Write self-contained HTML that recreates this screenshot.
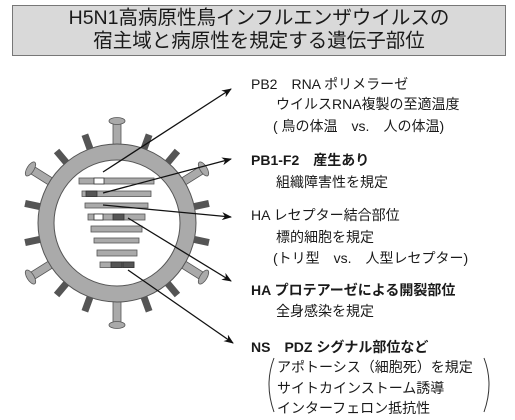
<!DOCTYPE html>
<html><head><meta charset="utf-8"><style>
html,body{margin:0;padding:0;background:#fff;}
body{width:515px;height:420px;position:relative;overflow:hidden;font-family:"Liberation Sans","Noto Sans CJK JP",sans-serif;color:#1a1a1a;}
.t{position:absolute;font-size:14px;white-space:nowrap;line-height:18px;}
.b{font-weight:bold;}
</style></head><body>
<div style="position:absolute;left:12px;top:5px;width:492px;height:48px;background:#d9d9d9;border:1px solid #777;text-align:center;font-size:19.5px;line-height:23px;padding-top:1px;">H5N1高病原性鳥インフルエンザウイルスの<br>宿主域と病原性を規定する遺伝子部位</div>
<svg width="515" height="420" style="position:absolute;left:0;top:0">
<defs>
<g id="lp"><rect x="-4" y="-101" width="8" height="26" fill="#aaa" stroke="#555" stroke-width="0.8"/><ellipse cx="0" cy="-102" rx="8" ry="3.5" fill="#aaa" stroke="#555" stroke-width="0.8"/></g>
<rect id="dk" x="-3.5" y="-94" width="7" height="18" fill="#555"/>
<marker id="ar" markerWidth="10" markerHeight="8" refX="9" refY="4" orient="auto" markerUnits="userSpaceOnUse"><path d="M0,0 L10,4 L0,8 L3,4z" fill="#111"/></marker>
</defs>
<g transform="translate(117,223)">
<use href="#lp" transform="rotate(0)"/><use href="#lp" transform="rotate(180)"/>
<use href="#lp" transform="rotate(-58)"/><use href="#lp" transform="rotate(58)"/>
<use href="#lp" transform="rotate(-122)"/><use href="#lp" transform="rotate(122)"/>
<use href="#dk" transform="rotate(-20)"/><use href="#dk" transform="rotate(20)"/>
<use href="#dk" transform="rotate(-40)"/><use href="#dk" transform="rotate(40)"/>
<use href="#dk" transform="rotate(-78)"/><use href="#dk" transform="rotate(78)"/>
<use href="#dk" transform="rotate(-102)"/><use href="#dk" transform="rotate(102)"/>
<use href="#dk" transform="rotate(-140)"/><use href="#dk" transform="rotate(140)"/>
<use href="#dk" transform="rotate(-160)"/><use href="#dk" transform="rotate(160)"/>
<circle r="79" fill="#aaa" stroke="#555" stroke-width="1"/>
<circle r="63" fill="#fff" stroke="#555" stroke-width="1"/>
</g>
<g fill="#aaa" stroke="#555" stroke-width="0.8">
<rect x="79" y="178" width="75" height="6"/>
<rect x="82" y="191" width="69" height="5.5"/>
<rect x="85" y="203" width="63" height="5"/>
<rect x="88" y="214" width="57" height="6"/>
<rect x="91" y="226" width="51" height="6"/>
<rect x="94" y="238" width="45" height="5"/>
<rect x="97" y="250" width="40" height="6"/>
<rect x="100" y="262" width="34" height="5.5"/>
</g>
<g stroke="#333" stroke-width="0.8">
<rect x="94" y="178" width="10" height="6" fill="#fff"/>
<rect x="86" y="191" width="11" height="5.5" fill="#555"/>
<rect x="94" y="214" width="9" height="6" fill="#fff"/>
<rect x="113" y="214" width="11" height="6" fill="#555"/>
<rect x="111" y="262" width="11" height="5.5" fill="#555"/>
<rect x="123" y="262" width="11" height="5.5" fill="#555"/>
</g>
<g stroke="#111" stroke-width="1.3" marker-end="url(#ar)">
<line x1="103" y1="172" x2="231" y2="89"/>
<line x1="103" y1="193" x2="231" y2="159"/>
<line x1="103" y1="205" x2="231" y2="217"/>
<line x1="128" y1="218" x2="231" y2="281"/>
<line x1="128" y1="270" x2="233" y2="343"/>
</g>
<path d="M274,358 Q264,384 274,412" fill="none" stroke="#333" stroke-width="1"/>
<path d="M484,358 Q494,384 484,412" fill="none" stroke="#333" stroke-width="1"/>
</svg>
<div class="t" style="left:251px;top:75px">PB2　RNA ポリメラーゼ</div>
<div class="t" style="left:276px;top:95px">ウイルスRNA複製の至適温度</div>
<div class="t" style="left:273px;top:117px">( 鳥の体温　vs.　人の体温)</div>
<div class="t b" style="left:251px;top:151px">PB1-F2　産生あり</div>
<div class="t" style="left:276px;top:173px">組織障害性を規定</div>
<div class="t" style="left:251px;top:206px">HA  レセプター結合部位</div>
<div class="t" style="left:276px;top:228px">標的細胞を規定</div>
<div class="t" style="left:273px;top:249px">(トリ型　vs.　人型レセプター)</div>
<div class="t b" style="left:251px;top:281px">HA プロテアーゼによる開裂部位</div>
<div class="t" style="left:276px;top:302px">全身感染を規定</div>
<div class="t b" style="left:251px;top:338px">NS　PDZ シグナル部位など</div>
<div class="t" style="left:277px;top:358px">アポトーシス（細胞死）を規定</div>
<div class="t" style="left:277px;top:379px">サイトカインストーム誘導</div>
<div class="t" style="left:277px;top:399px">インターフェロン抵抗性</div>
</body></html>
